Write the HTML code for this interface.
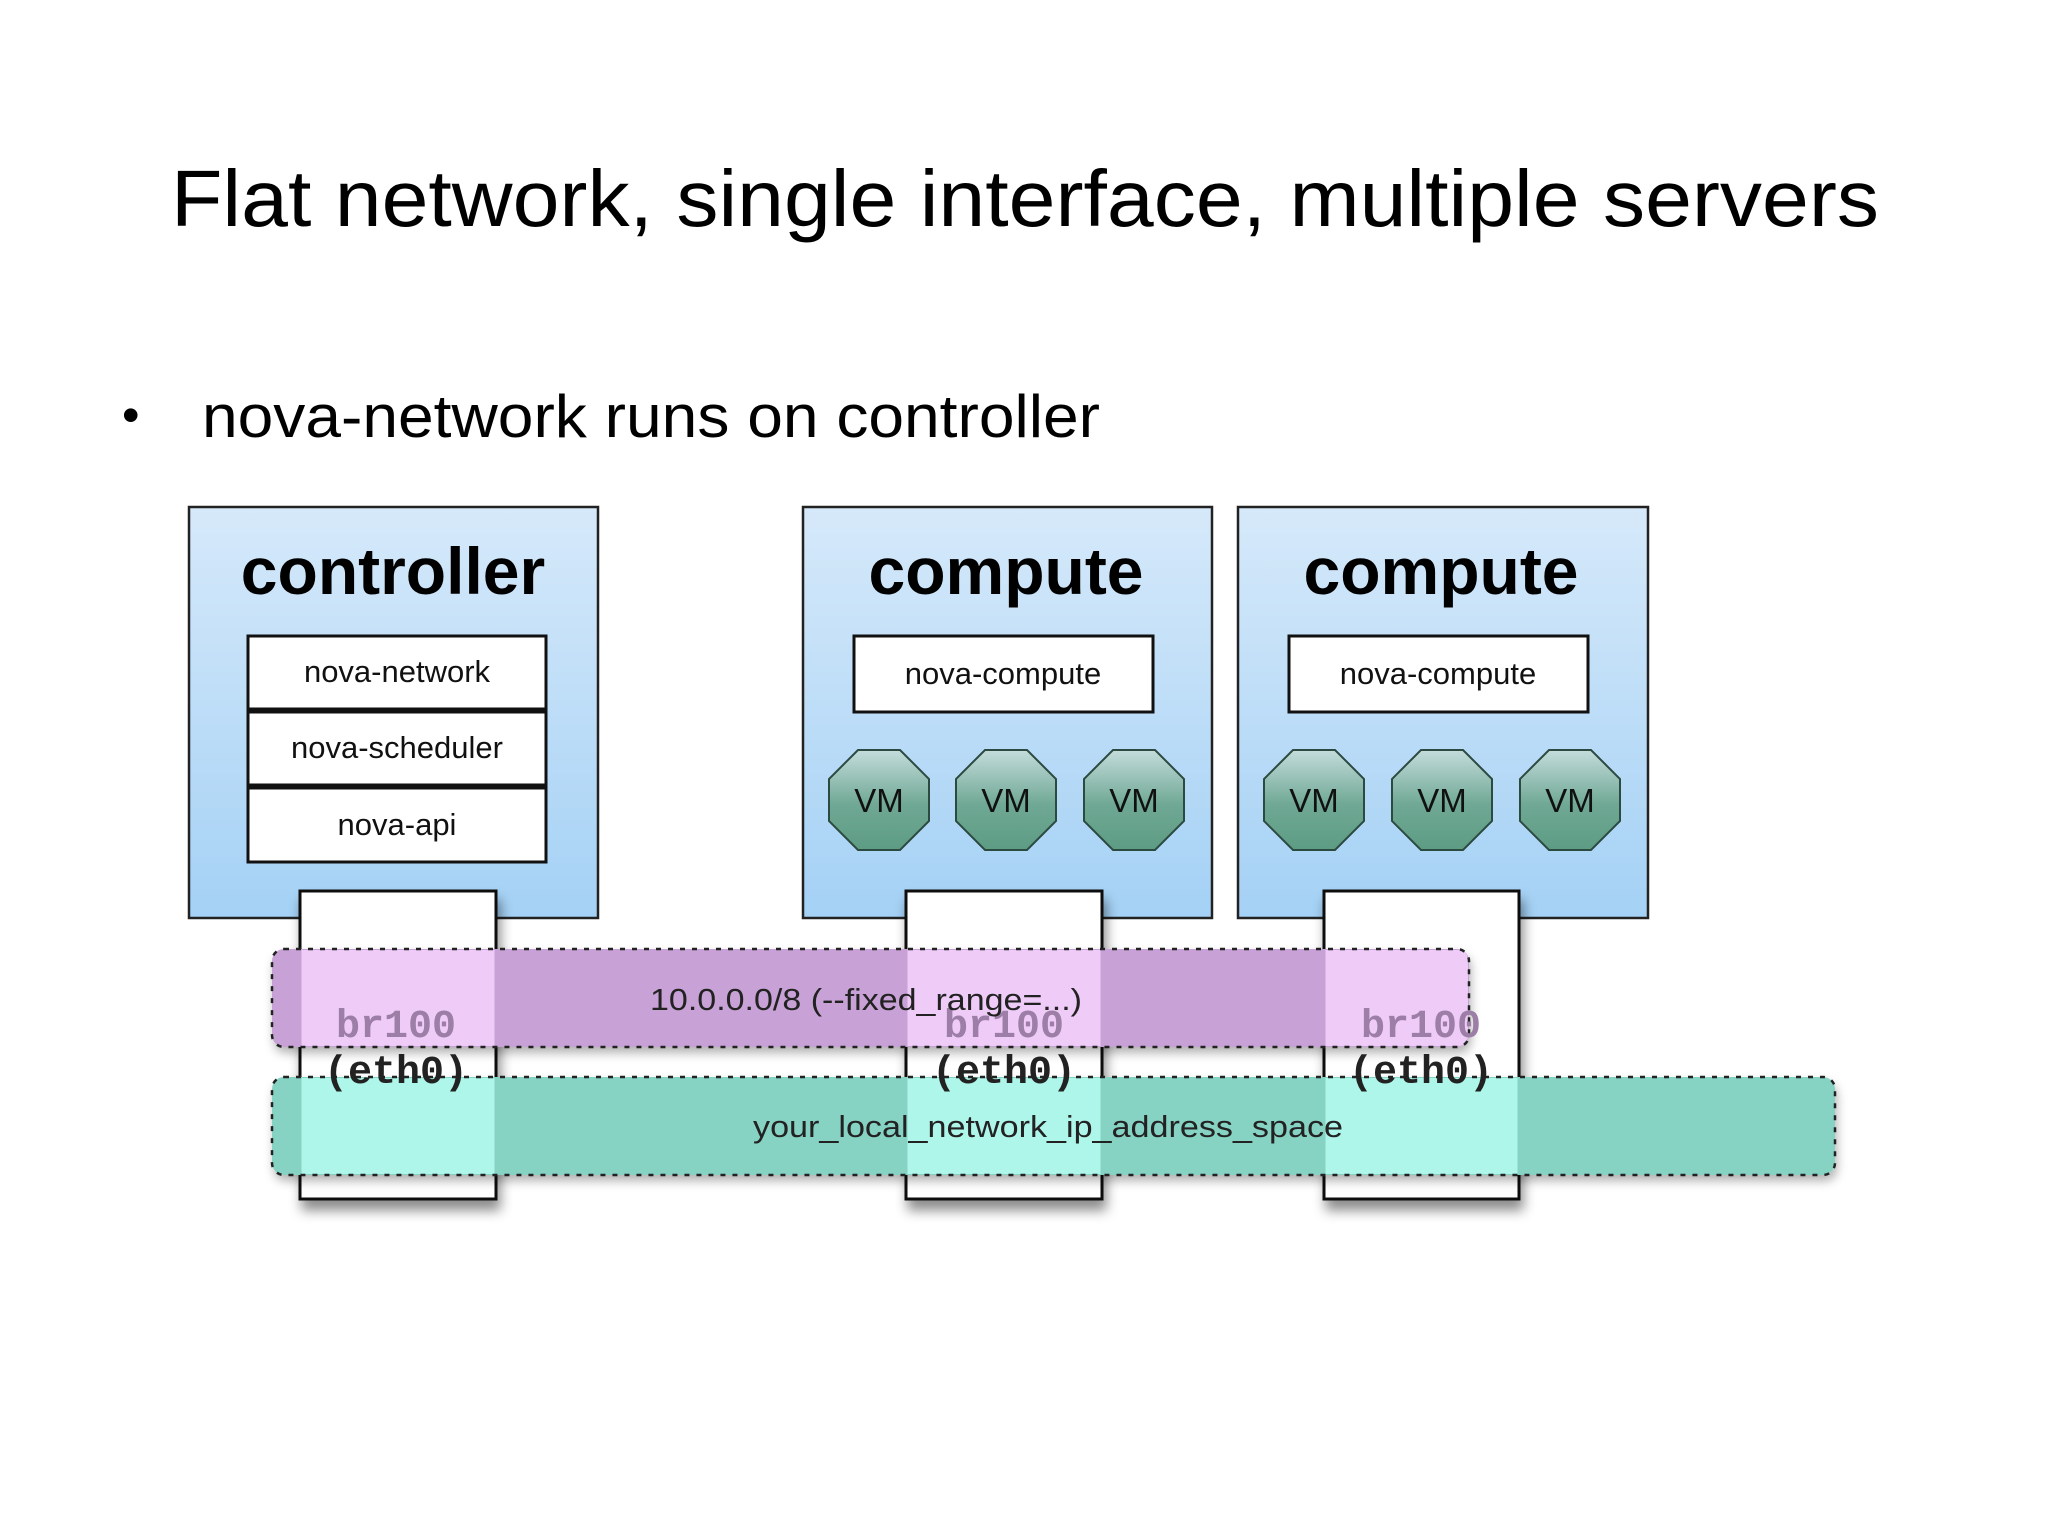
<!DOCTYPE html>
<html><head><meta charset="utf-8"><style>
html,body{margin:0;padding:0;background:#fff;}
svg{display:block;}
</style></head><body>
<svg width="2048" height="1536" viewBox="0 0 2048 1536" xmlns="http://www.w3.org/2000/svg">
<defs>
<linearGradient id="bg" x1="0" y1="0" x2="0" y2="1">
<stop offset="0" stop-color="#d6e9fa"/><stop offset="1" stop-color="#a4d1f5"/>
</linearGradient>
<linearGradient id="vm" x1="0" y1="0" x2="0" y2="1">
<stop offset="0" stop-color="#c4dcdc"/><stop offset="0.55" stop-color="#6fa894"/><stop offset="1" stop-color="#5d9c84"/>
</linearGradient>
<filter id="sh" x="-20%" y="-20%" width="140%" height="140%"><feDropShadow dx="3" dy="10" stdDeviation="6" flood-color="#000" flood-opacity="0.45"/></filter>
<filter id="sh2" x="-20%" y="-20%" width="140%" height="140%"><feDropShadow dx="2" dy="6" stdDeviation="5" flood-color="#000" flood-opacity="0.3"/></filter>
<g id="oct"><polygon points="-21,-50 21,-50 50,-21 50,21 21,50 -21,50 -50,21 -50,-21" fill="url(#vm)" stroke="#2c4a40" stroke-width="2"/><text x="0" y="12" text-anchor="middle" font-family="Liberation Sans, sans-serif" font-size="33" fill="#111">VM</text></g>
</defs>

<text x="1025" y="226" text-anchor="middle" font-family="Liberation Sans, sans-serif" font-size="80" textLength="1708" lengthAdjust="spacingAndGlyphs" fill="#000">Flat network, single interface, multiple servers</text>
<text x="122" y="432" font-family="Liberation Sans, sans-serif" font-size="50" fill="#000">•</text>
<text x="202" y="437" font-family="Liberation Sans, sans-serif" font-size="60" textLength="898" lengthAdjust="spacingAndGlyphs" fill="#000">nova-network runs on controller</text>

<rect x="189" y="507" width="409" height="411" fill="url(#bg)" stroke="#222" stroke-width="2.5"/>
<rect x="803" y="507" width="409" height="411" fill="url(#bg)" stroke="#222" stroke-width="2.5"/>
<rect x="1238" y="507" width="410" height="411" fill="url(#bg)" stroke="#222" stroke-width="2.5"/>
<g font-family="Liberation Sans, sans-serif" font-weight="bold" font-size="66" text-anchor="middle" fill="#000">
<text x="393" y="594">controller</text>
<text x="1006" y="594">compute</text>
<text x="1441" y="594">compute</text>
</g>
<g fill="#fff" stroke="#111" stroke-width="3">
<rect x="248" y="636" width="298" height="73"/>
<rect x="248" y="712" width="298" height="73"/>
<rect x="248" y="788" width="298" height="74"/>
<rect x="854" y="636" width="299" height="76"/>
<rect x="1289" y="636" width="299" height="76"/>
</g>
<g font-family="Liberation Sans, sans-serif" font-size="31" text-anchor="middle" fill="#111">
<text x="397" y="682">nova-network</text>
<text x="397" y="758">nova-scheduler</text>
<text x="397" y="835">nova-api</text>
<text x="1003" y="684">nova-compute</text>
<text x="1438" y="684">nova-compute</text>
</g>
<use href="#oct" x="879" y="800"/><use href="#oct" x="1006" y="800"/><use href="#oct" x="1134" y="800"/>
<use href="#oct" x="1314" y="800"/><use href="#oct" x="1442" y="800"/><use href="#oct" x="1570" y="800"/>

<g fill="#fff" stroke="#111" stroke-width="3" filter="url(#sh)">
<rect x="300" y="891" width="196" height="308"/>
<rect x="906" y="891" width="196" height="308"/>
<rect x="1324" y="891" width="195" height="308"/>
</g>

<rect x="272" y="949" width="1197" height="98" rx="12" fill="#c8a2d6" filter="url(#sh2)"/>
<rect x="272" y="1077" width="1563" height="98" rx="12" fill="#86d3c4" filter="url(#sh2)"/>
<g fill="#efcbf8">
<rect x="301.5" y="950" width="193" height="96"/>
<rect x="907.5" y="950" width="193" height="96"/>
<path d="M1325.5 950 H1457 Q1468 950 1468 961 V1035 Q1468 1046 1457 1046 H1325.5 Z"/>
</g>
<g fill="#aef5ea">
<rect x="301.5" y="1078" width="193" height="96"/>
<rect x="907.5" y="1078" width="193" height="96"/>
<rect x="1325.5" y="1078" width="192" height="96"/>
</g>
<g fill="none" stroke="#222" stroke-width="2.5" stroke-dasharray="5,7">
<rect x="272" y="949" width="1197" height="98" rx="12"/>
<rect x="272" y="1077" width="1563" height="98" rx="12"/>
</g>
<g font-family="Liberation Mono, monospace" font-weight="bold" font-size="40" text-anchor="middle">
<g fill="#9c7ea6"><text x="396" y="1037">br100</text><text x="1004" y="1037">br100</text><text x="1421" y="1037">br100</text></g>
<g fill="#222"><text x="396" y="1083">(eth0)</text><text x="1004" y="1083">(eth0)</text><text x="1421" y="1083">(eth0)</text></g>
</g>
<g font-family="Liberation Sans, sans-serif" font-size="31" text-anchor="middle" fill="#222">
<text x="866" y="1010" textLength="432" lengthAdjust="spacingAndGlyphs">10.0.0.0/8 (--fixed_range=...)</text>
<text x="1048" y="1137" textLength="590" lengthAdjust="spacingAndGlyphs">your_local_network_ip_address_space</text>
</g>
</svg>
</body></html>
